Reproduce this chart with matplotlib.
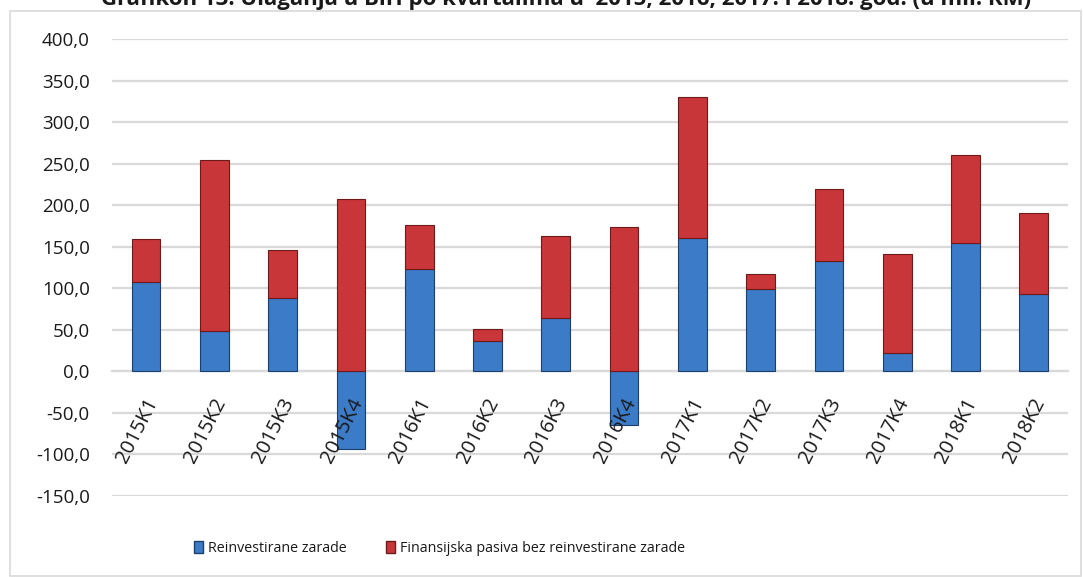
import matplotlib
matplotlib.use('Agg')
import matplotlib.pyplot as plt
from matplotlib.patches import Patch, Rectangle
from matplotlib.ticker import FuncFormatter
from matplotlib.transforms import ScaledTranslation
import numpy as np

# ----------------------------- DATA -------------------------------------------
kvartali = ['2015K1', '2015K2', '2015K3', '2015K4', '2016K1', '2016K2', '2016K3',
            '2016K4', '2017K1', '2017K2', '2017K3', '2017K4', '2018K1', '2018K2']
reinvestirane = [107, 49, 88, -94, 123, 36, 64, -64, 160, 99, 133, 22, 155, 93]
fin_pasiva = [52, 205, 58, 208, 53, 15, 99, 174, 170, 18, 86, 119, 105, 98]

naslov = 'Grafikon 13. Ulaganja u BiH po kvartalima u  2015, 2016, 2017. i 2018. god. (u mil. KM)'
leg_1 = 'Reinvestirane zarade'
leg_2 = 'Finansijska pasiva bez reinvestirane zarade'

# ----------------------------- STYLE ------------------------------------------
plt.rcParams['font.family'] = ['Open Sans', 'DejaVu Sans']
blue, blue_edge = '#3c7bc8', '#1c3f6e'
red, red_edge = '#c93639', '#6e1a1b'
grid_col = '#d9d9d9'
txt_col = '#1a1a1a'

fig = plt.figure(figsize=(10.83, 5.77), dpi=100)
ax = fig.add_axes([0.1034, 0.1404, 0.8827, 0.792])

# chart border
fig.patches.append(Rectangle((10 / 1083, 1 / 577), 1071 / 1083, 565 / 577,
                             transform=fig.transFigure, fill=False,
                             edgecolor=grid_col, lw=1.2))

x = np.arange(len(kvartali))
reinv = np.array(reinvestirane)
fin = np.array(fin_pasiva)
bottom_red = np.where(reinv > 0, reinv, 0)

ax.bar(x, reinv, width=0.42, color=blue, edgecolor=blue_edge, lw=0.8, zorder=3)
ax.bar(x, fin, bottom=bottom_red, width=0.42, color=red, edgecolor=red_edge,
       lw=0.8, zorder=3)

ax.set_xlim(-0.5, len(kvartali) - 0.5)
ax.set_ylim(-150, 400)
ax.set_yticks(np.arange(-150, 401, 50))
ax.yaxis.set_major_formatter(FuncFormatter(lambda v, p: ('%.1f' % v).replace('.', ',')))
ax.yaxis.grid(True, color=grid_col, lw=1.6)
ax.tick_params(axis='y', length=0, pad=16, labelsize=13.5, labelcolor=txt_col)

for s in ['top', 'right', 'left']:
    ax.spines[s].set_visible(False)
ax.spines['bottom'].set_position(('data', 0))
ax.spines['bottom'].set_color(grid_col)
ax.spines['bottom'].set_linewidth(1.6)
ax.spines['bottom'].set_zorder(1)

ax.set_xticks(x)
ax.set_xticklabels(kvartali, rotation=63, ha='right', va='center',
                   rotation_mode='anchor')
ax.tick_params(axis='x', length=0, pad=20, labelsize=14.5, labelcolor=txt_col)
for lbl in ax.get_xticklabels():
    lbl.set_transform(lbl.get_transform() + ScaledTranslation(0.07, 0, fig.dpi_scale_trans))

# gridlines under the bars, category labels over them
ax.yaxis.set_zorder(0.5)
ax.xaxis.set_zorder(5)

fig.text(0.523, 1 - 5 / 577, naslov, ha='center', va='baseline', fontsize=16,
         fontweight='bold', color=txt_col)

handles = [Patch(facecolor=blue, edgecolor=blue_edge), Patch(facecolor=red, edgecolor=red_edge)]
fig.legend(handles, [leg_1, leg_2], loc='center', bbox_to_anchor=(0.406, 0.05),
           ncol=2, frameon=False, fontsize=10.3,
           handlelength=0.63, handleheight=0.92, handletextpad=0.35,
           columnspacing=2.7, labelcolor=txt_col)

fig.savefig('out.png', dpi=100)
